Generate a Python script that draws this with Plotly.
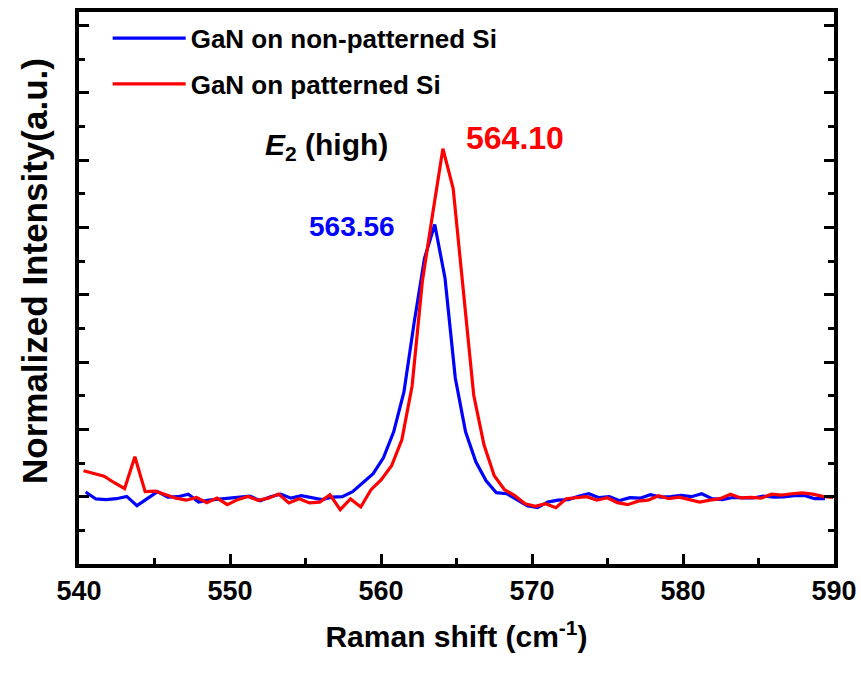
import plotly.graph_objects as go

# Raman shift grids (cm^-1)
shift_nonpatterned = [540.44, 541.12, 541.80, 542.48, 543.16, 543.84, 544.52, 545.20, 545.88, 546.56,
                      547.24, 547.92, 548.60, 549.28, 549.96, 550.64, 551.32, 552.00, 552.68, 553.36,
                      554.04, 554.72, 555.40, 556.08, 556.76, 557.44, 558.12, 558.80, 559.48, 560.16,
                      560.84, 561.52, 562.20, 562.88, 563.56, 564.24, 564.92, 565.60, 566.28, 566.96,
                      567.64, 568.32, 569.00, 569.68, 570.36, 571.04, 571.72, 572.40, 573.08, 573.76,
                      574.44, 575.12, 575.80, 576.48, 577.16, 577.84, 578.52, 579.20, 579.88, 580.56,
                      581.24, 581.92, 582.60, 583.28, 583.96, 584.64, 585.32, 586.00, 586.68, 587.36,
                      588.04, 588.72, 589.40]
intensity_nonpatterned = [7.0, -3.4, -4.4, -3.0, 0.4, -13.3, -3.0, 7.4, -0.7, 0.0,
                          3.7, -8.1, -5.2, -3.7, -1.5, 0.0, 0.7, -5.9, 0.0, 3.7,
                          -2.2, 1.5, -1.5, -4.4, -0.7, 0.0, 7.4, 20.7, 34.1, 57.8,
                          96.3, 155.6, 259.3, 354.1, 404.4, 324.4, 176.3, 96.3, 51.9, 23.7,
                          5.9, 4.4, -4.4, -13.3, -16.3, -8.1, -5.2, -4.4, 0.7, 4.4,
                          -1.5, 0.0, -5.9, -1.5, -2.2, 3.0, -0.7, 0.0, 1.9, 0.0,
                          4.4, -3.0, -4.4, -1.2, -1.9, -1.9, 1.0, -0.7, -0.3, 1.5,
                          1.9, -3.0, -3.0]

shift_patterned = [540.30, 540.98, 541.66, 542.34, 543.02, 543.70, 544.38, 545.06, 545.74, 546.42,
                   547.10, 547.78, 548.46, 549.14, 549.82, 550.50, 551.18, 551.86, 552.54, 553.22,
                   553.90, 554.58, 555.26, 555.94, 556.62, 557.30, 557.98, 558.66, 559.34, 560.02,
                   560.70, 561.38, 562.06, 562.74, 563.42, 564.10, 564.78, 565.46, 566.14, 566.82,
                   567.50, 568.18, 568.86, 569.54, 570.22, 570.90, 571.58, 572.26, 572.94, 573.62,
                   574.30, 574.98, 575.66, 576.34, 577.02, 577.70, 578.38, 579.06, 579.74, 580.42,
                   581.10, 581.78, 582.46, 583.14, 583.82, 584.50, 585.18, 585.86, 586.54, 587.22,
                   587.90, 588.58, 589.26, 589.94]
intensity_patterned = [38.5, 34.1, 30.4, 20.7, 11.9, 59.3, 7.4, 8.1, 3.0, -2.2,
                       -5.2, -1.0, -8.9, -2.2, -11.9, -4.4, 0.4, -5.5, -2.2, 4.0,
                       -9.3, -3.0, -9.3, -8.1, 3.0, -19.3, -3.4, -15.3, 10.4, 25.2,
                       45.9, 84.4, 164.4, 320.0, 420.0, 517.0, 457.8, 306.7, 151.1, 77.0,
                       31.1, 10.4, 1.5, -10.4, -14.4, -10.4, -16.3, -3.0, -1.9, 0.0,
                       -5.2, -1.5, -8.9, -11.9, -6.7, -5.2, 1.5, -3.0, -0.7, -4.4,
                       -8.1, -5.2, -3.0, 3.7, -1.9, -1.0, -2.2, 3.7, 2.2, 4.4,
                       5.5, 3.7, 0.4, -1.0]

series_names = ["GaN on non-patterned Si", "GaN on patterned Si"]
series_colors = ["#0000FF", "#FF0000"]
x_ticks = [540, 550, 560, 570, 580, 590]

FONT = "Liberation Sans, Arial, sans-serif"

W, H = 861, 675
ML, MR, MT, MB = 79, 27, 12, 111
PW, PH = W - ML - MR, H - MT - MB

fig = go.Figure()
fig.add_trace(go.Scatter(x=shift_nonpatterned, y=intensity_nonpatterned, mode="lines",
                         name=series_names[0], legendgroup="a",
                         line=dict(color=series_colors[0], width=3.2)))
fig.add_trace(go.Scatter(x=shift_patterned, y=intensity_patterned, mode="lines",
                         name=series_names[1], legendgroup="b",
                         line=dict(color=series_colors[1], width=3.2)))

fig.update_layout(
    width=W, height=H,
    margin=dict(l=ML, r=MR, t=MT, b=MB, autoexpand=False),
    paper_bgcolor="white", plot_bgcolor="white",
    font=dict(family=FONT, color="black"),
    showlegend=True,
    legend=dict(x=0.038, y=0.995, xanchor="left", yanchor="top",
                bgcolor="rgba(0,0,0,0)", borderwidth=0,
                font=dict(family=FONT, size=26, color="black", weight="bold"),
                itemwidth=73, tracegroupgap=9, traceorder="grouped"),
    xaxis=dict(range=[540, 590], tickvals=x_ticks, ticks="inside", ticklen=10, tickwidth=3,
               tickcolor="black", showline=True, linewidth=4, linecolor="black", mirror=True,
               showgrid=False, zeroline=False,
               minor=dict(dtick=5, ticks="inside", ticklen=6, tickwidth=3, tickcolor="black", showgrid=False),
               tickfont=dict(family=FONT, size=27, color="black", weight="bold"),
               title=dict(text="Raman shift (cm<sup>-1</sup>)", standoff=22,
                          font=dict(family=FONT, size=30, color="black", weight="bold"))),
    yaxis=dict(range=[-100, 720], dtick=100, tick0=0, ticks="inside", ticklen=10, tickwidth=3,
               tickcolor="black", showline=True, linewidth=4, linecolor="black", mirror="ticks",
               showgrid=False, zeroline=False, showticklabels=False,
               minor=dict(dtick=50, ticks="inside", ticklen=6, tickwidth=3, tickcolor="black", showgrid=False)),
    annotations=[
        dict(text="Normalized Intensity(a.u.)", xref="paper", yref="paper",
             x=(34 - ML) / PW, y=(PH + MT - 271) / PH, textangle=-90, showarrow=False,
             xanchor="center", yanchor="middle",
             font=dict(family=FONT, size=35, color="black", weight="bold")),
        dict(text="<i>E</i><sub>2</sub> (high)", x=556.4, y=520, xref="x", yref="y",
             showarrow=False, xanchor="center", yanchor="middle",
             font=dict(family=FONT, size=30, color="black", weight="bold")),
        dict(text="563.56", x=558.1, y=402, xref="x", yref="y",
             showarrow=False, xanchor="center", yanchor="middle",
             font=dict(family=FONT, size=28, color=series_colors[0], weight="bold")),
        dict(text="564.10", x=568.9, y=533, xref="x", yref="y",
             showarrow=False, xanchor="center", yanchor="middle",
             font=dict(family=FONT, size=32, color=series_colors[1], weight="bold")),
    ],
)

# remove the browser's default page margin so the figure fills the window exactly
fig.write_html("out.html",
               config={"displayModeBar": False},
               post_script="document.body.style.margin='0';document.body.style.overflow='hidden';")
